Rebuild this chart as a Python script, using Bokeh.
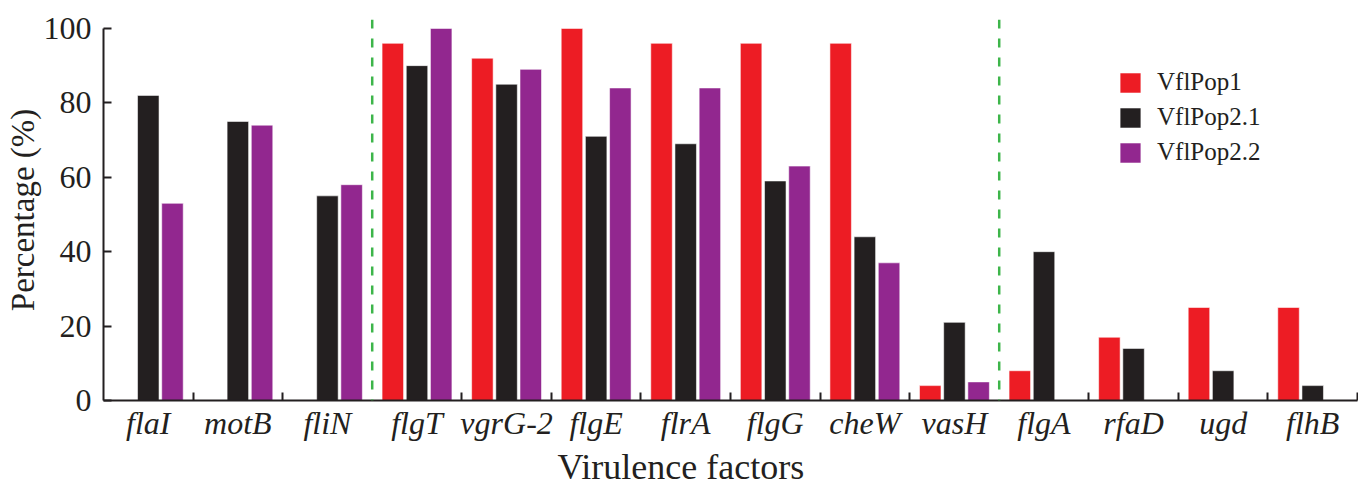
from bokeh.plotting import figure
from bokeh.models import ColumnDataSource, FixedTicker, Span, Title, Legend, LegendItem
from bokeh.embed import file_html
from bokeh.resources import INLINE

genes = ["flaI", "motB", "fliN", "flgT", "vgrG-2", "flgE", "flrA", "flgG",
         "cheW", "vasH", "flgA", "rfaD", "ugd", "flhB"]
group_sizes = [3, 7, 4]
series_names = ["VflPop1", "VflPop2.1", "VflPop2.2"]
vflpop1 = [0, 0, 0, 96, 92, 100, 96, 96, 96, 4, 8, 17, 25, 25]
vflpop2_1 = [82, 75, 55, 90, 85, 71, 69, 59, 44, 21, 40, 14, 8, 4]
vflpop2_2 = [53, 74, 58, 100, 89, 84, 84, 63, 37, 5, 0, 0, 0, 0]
colors = ["#ED1C24", "#231F20", "#92278F"]
y_ticks = [0, 20, 40, 60, 80, 100]

FONT = "Liberation Serif"
INK = "#231F20"

p = figure(width=1358, height=487, output_backend="svg", toolbar_location=None,
           x_range=(-0.5, len(genes) - 0.5), y_range=(0, 102.4),
           min_border_left=103, min_border_right=1, min_border_top=19,
           min_border_bottom=87)
p.outline_line_color = None
p.xgrid.visible = False
p.ygrid.visible = False
p.background_fill_color = "white"
p.border_fill_color = "white"

offsets = [-0.27, 0.0, 0.27]
renderers = []
for vals, off, col, name in zip([vflpop1, vflpop2_1, vflpop2_2], offsets, colors, series_names):
    xs = [i + off for i, v in enumerate(vals) if v > 0]
    tops = [v for v in vals if v > 0]
    src = ColumnDataSource(dict(x=xs, top=tops))
    r = p.vbar(x="x", top="top", bottom=0, width=0.24, source=src,
               fill_color=col, line_color="white", line_alpha=0.55, line_width=1)
    renderers.append((name, r))

# group separators
sep_positions = []
c = 0
for g in group_sizes[:-1]:
    c += g
    sep_positions.append(c - 0.5)
for s in sep_positions:
    p.add_layout(Span(location=s, dimension="height", line_color="#3DB54A",
                      line_width=2.5, line_dash="9 10"))

# x axis
minor = [i + 0.5 for i in range(len(genes)) if (i + 0.5) not in sep_positions]
p.xaxis.ticker = FixedTicker(ticks=list(range(len(genes))), minor_ticks=minor)
p.xaxis.major_label_overrides = {i: g for i, g in enumerate(genes)}
p.xaxis.major_tick_in = 0
p.xaxis.major_tick_out = 0
p.xaxis.minor_tick_in = 8
p.xaxis.minor_tick_out = 0
p.xaxis.minor_tick_line_color = INK
p.xaxis.minor_tick_line_width = 2
p.xaxis.axis_line_color = INK
p.xaxis.axis_line_width = 2
p.xaxis.major_label_text_font = FONT
p.xaxis.major_label_text_font_style = "italic"
p.xaxis.major_label_text_font_size = "32px"
p.xaxis.major_label_text_color = INK
p.xaxis.major_label_standoff = 4

# y axis
p.yaxis.ticker = FixedTicker(ticks=y_ticks)
p.yaxis.bounds = (0, 100)
p.yaxis.major_tick_in = 8
p.yaxis.major_tick_out = 0
p.yaxis.minor_tick_line_color = None
p.yaxis.major_tick_line_color = INK
p.yaxis.major_tick_line_width = 2
p.yaxis.axis_line_color = INK
p.yaxis.axis_line_width = 2
p.yaxis.major_label_text_font = FONT
p.yaxis.major_label_text_font_size = "32px"
p.yaxis.major_label_text_color = INK
p.yaxis.major_label_standoff = 12
p.yaxis.axis_label = "Percentage (%)"
p.yaxis.axis_label_text_font = FONT
p.yaxis.axis_label_text_font_style = "normal"
p.yaxis.axis_label_text_font_size = "33px"
p.yaxis.axis_label_text_color = INK
p.yaxis.axis_label_standoff = 0

# x axis title
p.add_layout(Title(text="Virulence factors", align="left", offset=454,
                   text_font=FONT, text_font_style="normal", text_font_size="36px",
                   text_color=INK, standoff=2), "below")

legend = Legend(items=[LegendItem(label=n, renderers=[r]) for n, r in renderers],
                location=(1014, 234), padding=0, margin=0, spacing=7,
                glyph_width=26, glyph_height=25, label_height=25, label_standoff=14,
                label_text_font=FONT, label_text_font_size="25px", label_text_color=INK,
                border_line_alpha=0, background_fill_alpha=0)
p.add_layout(legend)

open("out.html", "w").write(file_html(p, INLINE))
